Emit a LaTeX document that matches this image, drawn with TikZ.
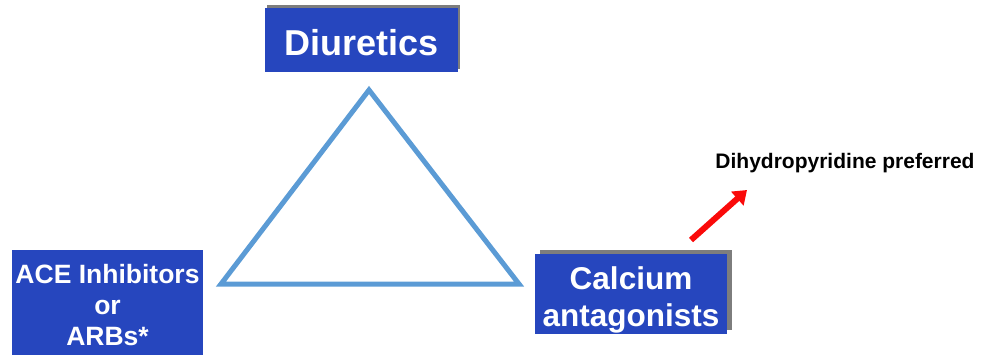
\documentclass[tikz,border=0pt]{standalone}
\usepackage{fontspec}
\setmainfont{Liberation Sans}
\usepackage{xcolor}
\usepackage{tikz}
\usetikzlibrary{arrows.meta, positioning}
\definecolor{drugblue}{RGB}{38,70,190}
\definecolor{bevelgray}{RGB}{125,125,125}
\definecolor{triblue}{RGB}{91,155,213}
\definecolor{notered}{RGB}{250,10,10}

\begin{document}
\begin{tikzpicture}[x=1pt, y=-1pt,
    drugbox/.style={fill=drugblue, inner sep=0pt},
    drugtext/.style={text=white, inner sep=0pt, align=center},
    bevel/.style={fill=bevelgray}]
    \clip (0,0) rectangle (990,354);
    % grey edges behind the two upper-right lit boxes
    \fill[bevel] (267,5) rectangle (460,69);
    \fill[bevel] (540,250) rectangle (732,330);
    \node[drugbox, minimum width=193pt, minimum height=64pt] (diur) at (361.5,40) {};
    \node[drugbox, minimum width=191pt, minimum height=110pt] (ace) at (107.5,305) {};
    \node[drugbox, minimum width=192pt, minimum height=80pt] (calc) at (631,294) {};
    % box texts
    \node[drugtext, font=\fontsize{36}{40}\selectfont\bfseries] (diurtext) at ([yshift=-3pt]diur.center) {Diuretics};
    \node[drugtext, font=\fontsize{26.5}{31}\selectfont\bfseries] (acetext) at (ace.center) {ACE Inhibitors\\or\\ARBs*};
    \node[drugtext, font=\fontsize{31.5}{37}\selectfont\bfseries] (calctext) at ([yshift=-6pt]calc.center) {Calcium\\antagonists};
    % the triangle
    \coordinate (apex) at (369,90);
    \coordinate (left) at (221,284);
    \coordinate (right) at (519,284);
    \draw[triblue, line width=5pt] (apex) -- (left) -- (right) -- cycle;
    % note on the calcium antagonists
    \node[font=\fontsize{21}{24}\selectfont\bfseries, inner sep=0pt] (note) at (845,163)
          {Dihydropyridine preferred};
    \coordinate (arrbase) at (691,240);
    \coordinate (arrtip) at (747,190);
    \draw[notered, line width=6pt, -{Triangle[length=13pt, width=18pt]}] (arrbase) -- (arrtip);
\end{tikzpicture}
\end{document}
